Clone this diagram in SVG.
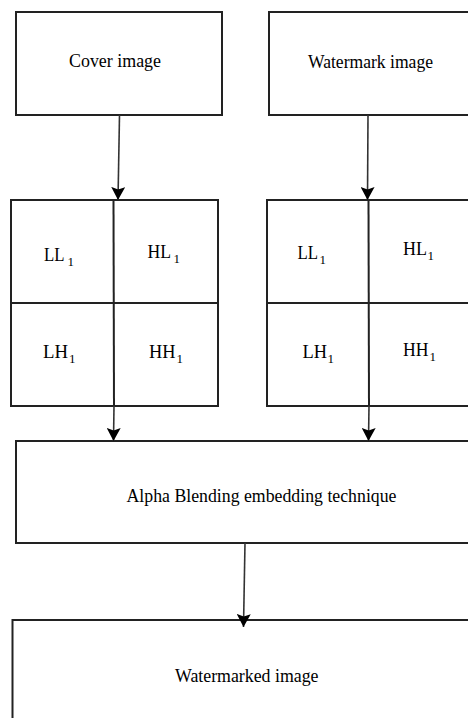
<svg xmlns="http://www.w3.org/2000/svg" width="468" height="718" viewBox="0 0 468 718">
<style>
.box{fill:#fff;stroke:#222;stroke-width:2}
.div{stroke:#222;stroke-width:2;fill:none}
.conn{stroke:#333;stroke-width:1.6;fill:none}
text{font-family:"Liberation Serif","Times New Roman",serif;fill:#000}
.main{font-size:19.5px}
.lbl{font-size:19px}
.sub{font-size:13px}
</style>
<defs>
<marker id="ah" markerUnits="userSpaceOnUse" viewBox="0 0 13 14" refX="13" refY="7" markerWidth="13" markerHeight="14" orient="auto">
<path d="M0,0 L13,7 L0,14 L2.5,7 z" fill="#000"/>
</marker>
</defs>
<rect width="468" height="718" fill="#fff"/>
<g id="cover">
<rect class="box" x="16" y="12" width="206" height="103"/>
<text class="main" x="69" y="67" textLength="92" lengthAdjust="spacingAndGlyphs">Cover image</text>
</g>
<g id="watermark">
<rect class="box" x="269" y="12" width="220" height="103"/>
<text class="main" x="308" y="68" textLength="125" lengthAdjust="spacingAndGlyphs">Watermark image</text>
</g>
<g id="grid-cover">
<rect class="box" x="11" y="200" width="207" height="206"/>
<line class="div" x1="11" y1="303" x2="218" y2="303"/>
<line class="div" x1="113.5" y1="200" x2="114" y2="406"/>
<text class="lbl" x="44" y="261" textLength="20.5" lengthAdjust="spacingAndGlyphs">LL</text><text class="sub" x="67.5" y="265.5">1</text>
<text class="lbl" x="147.5" y="258" textLength="23.5" lengthAdjust="spacingAndGlyphs">HL</text><text class="sub" x="173.5" y="262.5">1</text>
<text class="lbl" x="43" y="358" textLength="25" lengthAdjust="spacingAndGlyphs">LH</text><text class="sub" x="69" y="362.5">1</text>
<text class="lbl" x="149" y="358" textLength="26.5" lengthAdjust="spacingAndGlyphs">HH</text><text class="sub" x="176.5" y="362.5">1</text>
</g>
<g id="grid-watermark">
<rect class="box" x="267" y="200" width="222" height="206"/>
<line class="div" x1="267" y1="303" x2="489" y2="303"/>
<line class="div" x1="368.5" y1="200" x2="369" y2="406"/>
<text class="lbl" x="297.5" y="259" textLength="20.5" lengthAdjust="spacingAndGlyphs">LL</text><text class="sub" x="319.5" y="263.5">1</text>
<text class="lbl" x="403" y="255" textLength="24" lengthAdjust="spacingAndGlyphs">HL</text><text class="sub" x="427.5" y="259.5">1</text>
<text class="lbl" x="302.5" y="358" textLength="24.5" lengthAdjust="spacingAndGlyphs">LH</text><text class="sub" x="327.5" y="362.5">1</text>
<text class="lbl" x="403" y="356" textLength="25.5" lengthAdjust="spacingAndGlyphs">HH</text><text class="sub" x="429.5" y="360.5">1</text>
</g>
<g id="alpha">
<rect class="box" x="16" y="441" width="472" height="102"/>
<text class="main" x="126.5" y="502" textLength="270" lengthAdjust="spacingAndGlyphs">Alpha Blending embedding technique</text>
</g>
<g id="watermarked">
<rect class="box" x="12.5" y="620" width="476" height="120"/>
<text class="main" x="175" y="682" textLength="143.5" lengthAdjust="spacingAndGlyphs">Watermarked image</text>
</g>
<g id="connectors">
<line class="conn" x1="119.5" y1="115" x2="118" y2="200" marker-end="url(#ah)"/>
<line class="conn" x1="368" y1="115" x2="367.5" y2="200" marker-end="url(#ah)"/>
<line class="conn" x1="114" y1="406" x2="113.5" y2="441" marker-end="url(#ah)"/>
<line class="conn" x1="369" y1="406" x2="368.5" y2="441" marker-end="url(#ah)"/>
<line class="conn" x1="245" y1="543" x2="243.5" y2="627" marker-end="url(#ah)"/>
</g>
</svg>
